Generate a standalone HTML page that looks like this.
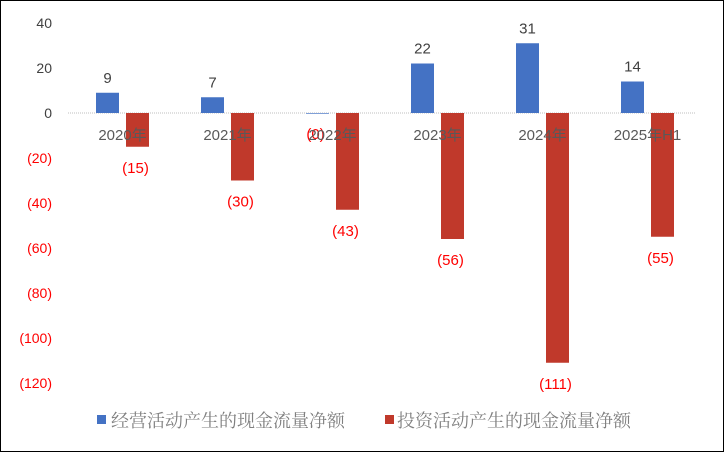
<!DOCTYPE html>
<html><head><meta charset="utf-8"><style>
html,body{margin:0;padding:0;background:#fff}
svg{display:block}
</style></head><body>
<svg id="chart" width="724" height="452" xmlns="http://www.w3.org/2000/svg">
<rect x="0.5" y="0.5" width="723" height="451" fill="#fff" stroke="#000" stroke-width="1"/>
<g id="yaxis"></g>
<g id="bars"></g>
<g id="xlabels"></g>
<g id="legend">
<rect x="97" y="415" width="9" height="9" fill="#4472C4"/>
<text x="111" y="427" font-family="'Liberation Serif','Noto Serif CJK SC',serif" font-size="18" fill="#7f7f7f">经营活动产生的现金流量净额</text>
<rect x="385" y="415" width="9" height="9" fill="#C0392B"/>
<text x="397" y="427" font-family="'Liberation Serif','Noto Serif CJK SC',serif" font-size="18" fill="#7f7f7f">投资活动产生的现金流量净额</text>
</g>
</svg>
<script>
const categories = ["2020年","2021年","2022年","2023年","2024年","2025年H1"];
const operating = [9, 7, -0.3, 22, 31, 14];
const investing = [-15, -30, -43, -56, -111, -55];
const yTicks = [40, 20, 0, -20, -40, -60, -80, -100, -120];

const svgNS = "http://www.w3.org/2000/svg";
const plotLeft = 70, plotRight = 700, zeroY = 113, pxPerUnit = 2.25;
const bandW = (plotRight - plotLeft) / categories.length;
const barW = 23;
function y(v){ return zeroY - v * pxPerUnit; }
function xc(i){ return plotLeft + bandW * (i + 0.5); }
function fmt(v){ const r = Math.round(Math.abs(v)); return v < 0 ? "(" + r + ")" : String(r); }
function mk(tag, attrs, parent){ const e = document.createElementNS(svgNS, tag); for (const k in attrs) e.setAttribute(k, attrs[k]); parent.appendChild(e); return e; }
const font = "'Liberation Sans','Noto Sans CJK SC',sans-serif";

const yaxis = document.getElementById("yaxis");
yTicks.forEach(t => {
  const tx = mk("text", {x: 52, y: y(t) + 5, "text-anchor": "end", "font-family": font, "font-size": 14, fill: t < 0 ? "#FF0000" : "#404040"}, yaxis);
  
  
  tx.textContent = fmt(t);
});
const axisLine = mk("line", {x1: plotLeft - 2, x2: plotRight - 5, y1: zeroY, y2: zeroY, stroke: "#bfbfbf", "stroke-width": 1, "stroke-dasharray": "1,1"}, yaxis);



const bars = document.getElementById("bars");
const xlabels = document.getElementById("xlabels");
categories.forEach((c, i) => {
  const cx = xc(i);
  const ov = operating[i];
  const b1 = mk("rect", {x: cx - 3.5 - barW, y: Math.min(y(ov), zeroY), width: barW, height: Math.abs(y(ov) - zeroY), fill: "#4472C4"}, bars);
  
  
  const l1 = mk("text", {x: cx - 3.5 - barW / 2 - (ov < 0 ? 2 : 0), y: ov >= 0 ? y(ov) - 10 : zeroY + 26, "text-anchor": "middle", "font-family": font, "font-size": 15, fill: ov < 0 ? "#FF0000" : "#404040"}, bars);
  
  
  l1.textContent = fmt(ov);

  const iv = investing[i];
  const b2 = mk("rect", {x: cx + 3.5, y: Math.min(y(iv), zeroY), width: barW, height: Math.abs(y(iv) - zeroY), fill: "#C0392B"}, bars);
  
  
  const l2 = mk("text", {x: cx + 3.5 + barW / 2 - 2, y: iv >= 0 ? y(iv) - 10 : y(iv) + 26, "text-anchor": "middle", "font-family": font, "font-size": 15, fill: iv < 0 ? "#FF0000" : "#404040"}, bars);
  
  
  l2.textContent = fmt(iv);

  const lab = mk("text", {x: cx, y: zeroY + 27, "text-anchor": "middle", "font-family": font, "font-size": 15, fill: "#595959"}, xlabels);
  
  
  lab.textContent = c;
});
</script>
</body></html>
